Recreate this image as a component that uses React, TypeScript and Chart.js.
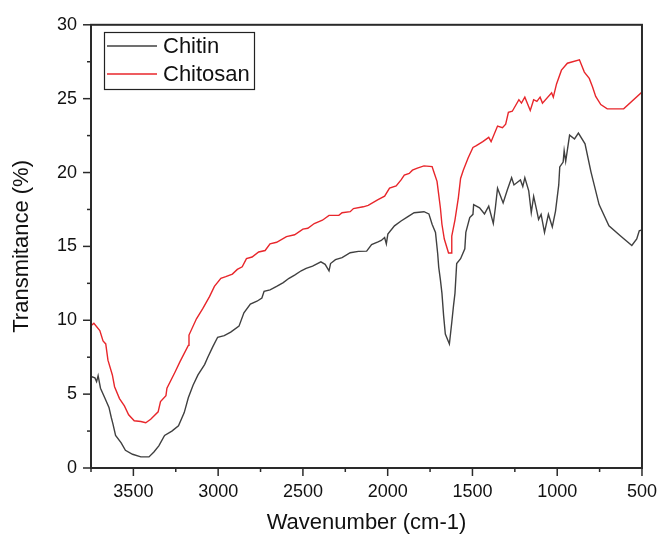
import React, { useEffect, useRef } from "react";
import { Chart, registerables } from "chart.js";

Chart.register(...registerables);

const seriesNames = ["Chitin", "Chitosan"];
const xTickValues = [3500, 3000, 2500, 2000, 1500, 1000, 500];
const yTickValues = [0, 5, 10, 15, 20, 25, 30];

const chitinWn = [
  3750, 3727, 3717, 3708, 3694, 3669, 3644, 3630, 3621, 3605, 3572, 3547, 3505, 3456, 3408, 3379, 3350, 3316, 3273, 3234,
  3200, 3176, 3148, 3119, 3080, 3061, 3032, 3003, 2964, 2926, 2877, 2848, 2810, 2771, 2742, 2729, 2694, 2655, 2616, 2582,
  2549, 2510, 2481, 2443, 2394, 2369, 2346, 2337, 2308, 2269, 2221, 2173, 2124, 2095, 2057, 2038, 2018, 2008, 1999, 1960,
  1921, 1883, 1844, 1786, 1757, 1738, 1718, 1705, 1699, 1689, 1680, 1670, 1660, 1636, 1622, 1612, 1603, 1593, 1570, 1545,
  1539, 1516, 1497, 1493, 1458, 1429, 1404, 1377, 1365, 1352, 1319, 1294, 1269, 1255, 1217, 1203, 1191, 1168, 1153, 1139,
  1120, 1110, 1095, 1075, 1052, 1029, 1010, 991, 985, 965, 959, 950, 927, 898, 875, 836, 801, 753, 695, 628,
  560, 531, 516, 505,
];
const chitinT = [
  6.2, 6.1, 5.85, 6.25, 5.4, 4.75, 4.1, 3.4, 3.0, 2.2, 1.7, 1.2, 0.93, 0.75, 0.75, 1.08, 1.5, 2.2, 2.5, 2.86,
  3.75, 4.75, 5.6, 6.3, 7.0, 7.5, 8.2, 8.85, 8.96, 9.2, 9.6, 10.5, 11.1, 11.29, 11.51, 11.96, 12.06, 12.29, 12.55, 12.84,
  13.06, 13.35, 13.51, 13.66, 13.95, 13.79, 13.35, 13.84, 14.1, 14.24, 14.57, 14.66, 14.68, 15.12, 15.3, 15.4, 15.6, 15.17, 15.83, 16.39,
  16.72, 17.0, 17.28, 17.35, 17.2, 16.5, 15.95, 14.5, 13.6, 12.73, 11.84, 10.3, 9.07, 8.4, 9.85, 10.96, 11.84, 13.84, 14.17, 14.84,
  15.95, 16.95, 17.17, 17.83, 17.61, 17.2, 17.72, 16.55, 17.6, 18.94, 17.94, 18.83, 19.65, 19.16, 19.5, 19.05, 19.65, 18.76, 17.28, 18.38,
  17.39, 16.83, 17.17, 15.95, 17.17, 16.32, 17.39, 19.16, 20.38, 20.71, 21.49, 20.76, 22.53, 22.27, 22.67, 21.94, 20.05, 17.83, 16.39, 15.72,
  15.06, 15.5, 16.05, 16.1,
];

const chitosanWn = [
  3750, 3733, 3698, 3679, 3663, 3650, 3624, 3611, 3582, 3553, 3528, 3495, 3456, 3427, 3398, 3354, 3340, 3308, 3302, 3254,
  3225, 3176, 3172, 3128, 3090, 3051, 3022, 2984, 2955, 2916, 2887, 2858, 2833, 2800, 2761, 2723, 2694, 2655, 2597, 2549,
  2500, 2471, 2433, 2385, 2346, 2288, 2269, 2221, 2202, 2144, 2115, 2057, 2018, 1989, 1950, 1921, 1902, 1873, 1854, 1825,
  1786, 1738, 1728, 1709, 1699, 1689, 1680, 1666, 1641, 1626, 1622, 1603, 1583, 1570, 1554, 1525, 1497, 1477, 1439, 1404,
  1390, 1352, 1323, 1304, 1288, 1265, 1226, 1211, 1191, 1159, 1139, 1120, 1101, 1087, 1033, 1023, 1004, 975, 940, 869,
  840, 811, 792, 773, 743, 705, 608, 500,
];
const chitosanT = [
  9.63, 9.8, 9.3, 8.6, 8.4, 7.3, 6.3, 5.5, 4.7, 4.2, 3.6, 3.2, 3.15, 3.06, 3.3, 3.8, 4.5, 4.9, 5.4, 6.5,
  7.2, 8.3, 9.0, 10.1, 10.8, 11.6, 12.29, 12.84, 12.95, 13.13, 13.44, 13.62, 14.17, 14.28, 14.62, 14.72, 15.17, 15.28, 15.66, 15.79,
  16.17, 16.23, 16.55, 16.77, 17.1, 17.1, 17.28, 17.35, 17.56, 17.68, 17.78, 18.16, 18.4, 18.94, 19.1, 19.5, 19.83, 19.94, 20.16, 20.3,
  20.45, 20.4, 20.05, 19.4, 18.5, 17.6, 16.5, 15.5, 14.55, 14.55, 15.7, 16.8, 18.3, 19.6, 20.16, 21.0, 21.7, 21.82, 22.09, 22.38,
  22.09, 23.15, 23.04, 23.27, 24.08, 24.15, 24.93, 24.7, 25.1, 24.2, 24.93, 24.82, 25.1, 24.7, 25.4, 25.1, 26.0, 26.93, 27.4, 27.63,
  26.8, 26.37, 25.8, 25.15, 24.6, 24.31, 24.31, 25.45,
];

const colors = ["#404040", "#e8262b"];
const FONT = "'Liberation Sans', Arial, sans-serif";

const framePlugin = {
  id: "framePlugin",
  afterDraw(chart: any) {
    const { ctx, chartArea } = chart;
    const xs = chart.scales.x;
    const ys = chart.scales.y;
    const { left, right, top, bottom } = chartArea;
    ctx.save();
    ctx.strokeStyle = "#2a2a2a";
    ctx.lineWidth = 2;
    ctx.strokeRect(left, top, right - left, bottom - top);
    ctx.lineWidth = 1.5;
    for (let v = 500; v <= 3750; v += 250) {
      const px = xs.getPixelForValue(v);
      const len = v % 500 === 0 ? 8 : 4;
      ctx.beginPath();
      ctx.moveTo(px, bottom);
      ctx.lineTo(px, bottom + len);
      ctx.stroke();
    }
    for (let v = 0; v <= 30; v += 2.5) {
      const py = ys.getPixelForValue(v);
      const len = v % 5 === 0 ? 8 : 4;
      ctx.beginPath();
      ctx.moveTo(left, py);
      ctx.lineTo(left - len, py);
      ctx.stroke();
    }
    ctx.fillStyle = "#111";
    ctx.font = `22px ${FONT}`;
    ctx.textAlign = "center";
    ctx.textBaseline = "middle";
    ctx.fillText("Wavenumber (cm-1)", (left + right) / 2, 523);
    ctx.save();
    ctx.translate(22, (top + bottom) / 2);
    ctx.rotate(-Math.PI / 2);
    ctx.fillText("Transmitance (%)", 0, 0);
    ctx.restore();
    ctx.lineWidth = 1.2;
    ctx.strokeStyle = "#222";
    ctx.strokeRect(104.5, 32.5, 150, 57);
    ctx.textAlign = "left";
    ctx.font = `22px ${FONT}`;
    seriesNames.forEach((name, i) => {
      const y = 46 + i * 28;
      ctx.strokeStyle = colors[i];
      ctx.lineWidth = 1.4;
      ctx.beginPath();
      ctx.moveTo(107, y);
      ctx.lineTo(157, y);
      ctx.stroke();
      ctx.fillStyle = "#111";
      ctx.fillText(name, 163, y + 1);
    });
    ctx.restore();
  },
};

export default function App() {
  const ref = useRef<HTMLCanvasElement>(null);
  useEffect(() => {
    if (!ref.current) return;
    const chart = new Chart(ref.current, {
      type: "line",
      data: {
        datasets: [
          {
            label: seriesNames[0],
            data: chitinWn.map((x, i) => ({ x, y: chitinT[i] })),
            borderColor: colors[0],
            borderWidth: 1.4,
            pointRadius: 0,
            tension: 0,
            fill: false,
          },
          {
            label: seriesNames[1],
            data: chitosanWn.map((x, i) => ({ x, y: chitosanT[i] })),
            borderColor: colors[1],
            borderWidth: 1.4,
            pointRadius: 0,
            tension: 0,
            fill: false,
          },
        ],
      },
      options: {
        responsive: false,
        animation: false,
        layout: { padding: { left: 0, right: 18, top: 17, bottom: 0 } },
        plugins: { legend: { display: false }, tooltip: { enabled: false } },
        scales: {
          x: {
            type: "linear",
            reverse: true,
            min: 500,
            max: 3750,
            grid: { display: false, drawTicks: false },
            border: { display: false },
            afterBuildTicks: (s: any) => {
              s.ticks = xTickValues.map((v) => ({ value: v }));
            },
            afterFit: (s: any) => {
              s.height = 72;
            },
            ticks: {
              padding: 13,
              maxRotation: 0,
              autoSkip: false,
              color: "#111",
              font: { family: FONT, size: 18 },
              callback: (v: any) => String(v),
            },
          },
          y: {
            type: "linear",
            min: 0,
            max: 30,
            grid: { display: false, drawTicks: false },
            border: { display: false },
            afterBuildTicks: (s: any) => {
              s.ticks = yTickValues.map((v) => ({ value: v }));
            },
            afterFit: (s: any) => {
              s.width = 91;
            },
            ticks: {
              padding: 14,
              color: "#111",
              font: { family: FONT, size: 18 },
              callback: (v: any) => String(v),
            },
          },
        },
      },
      plugins: [framePlugin],
    });
    return () => chart.destroy();
  }, []);
  return (
    <div style={{ position: "absolute", left: 0, top: 0, width: 670, height: 540, background: "#fff" }}>
      <canvas ref={ref} width={670} height={540} style={{ display: "block" }} />
    </div>
  );
}
